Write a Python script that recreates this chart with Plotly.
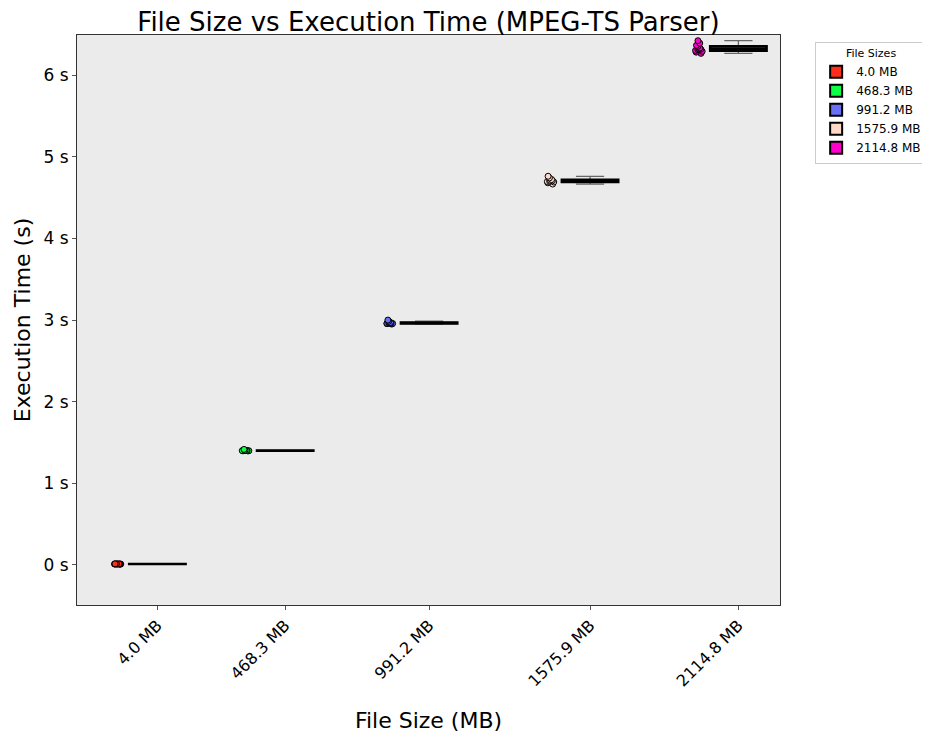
import numpy as np
import plotly.graph_objects as go

file_sizes_mb = [4.0, 468.3, 991.2, 1575.9, 2114.8]
labels = ["4.0 MB", "468.3 MB", "991.2 MB", "1575.9 MB", "2114.8 MB"]
y_tick_vals = [0, 1, 2, 3, 4, 5, 6]
y_tick_text = ["0 s", "1 s", "2 s", "3 s", "4 s", "5 s", "6 s"]
colors = ["#ff2d1a", "#0aff45", "#6b6ff5", "#ffd8c8", "#ff00cc"]

times_4_0 = [0.010, 0.012, 0.011, 0.013, 0.012, 0.014, 0.011, 0.012, 0.013, 0.012]
times_468_3 = [1.398, 1.401, 1.404, 1.399, 1.402, 1.415, 1.400, 1.403, 1.397, 1.401]
times_991_2 = [2.955, 2.962, 2.958, 2.970, 2.950, 2.999, 2.965, 2.960, 2.985, 2.957]
times_1575_9 = [4.665, 4.680, 4.690, 4.695, 4.700, 4.705, 4.710, 4.720, 4.740, 4.760]
times_2114_8 = [6.265, 6.280, 6.290, 6.300, 6.310, 6.315, 6.320, 6.330, 6.350, 6.363, 6.390, 6.420]

all_times = [times_4_0, times_468_3, times_991_2, times_1575_9, times_2114_8]

fig = go.Figure()
# whiskers + points (thin grey lines)
for size, lab, col, ts in zip(file_sizes_mb, labels, colors, all_times):
    fig.add_trace(go.Box(
        x=[size] * len(ts),
        y=ts,
        name=lab,
        legendgroup=lab,
        showlegend=False,
        width=205,
        fillcolor=col,
        line=dict(color="#666666", width=1.3),
        whiskerwidth=0.5,
        boxpoints="all",
        pointpos=-1.4,
        jitter=0.15,
        marker=dict(color=col, size=6, line=dict(color="black", width=1)),
    ))
# boxes with thick black outline on top
for size, lab, col, ts in zip(file_sizes_mb, labels, colors, all_times):
    q1, med, q3 = np.percentile(ts, [25, 50, 75])
    fig.add_trace(go.Box(
        x=[size],
        q1=[q1], median=[med], q3=[q3],
        lowerfence=[q1], upperfence=[q3],
        name=lab,
        legendgroup=lab,
        showlegend=True,
        width=205,
        fillcolor=col,
        line=dict(color="black", width=2.5),
        whiskerwidth=0,
        boxpoints=False,
    ))

fig.update_layout(
    width=922, height=726,
    paper_bgcolor="white",
    plot_bgcolor="#ebebeb",
    font=dict(family="DejaVu Sans", color="black"),
    title=dict(text="File Size vs Execution Time (MPEG-TS Parser)",
               font=dict(size=26), x=0.5, xref="paper", xanchor="center",
               y=0.981, yanchor="middle"),
    margin=dict(l=69, r=150, t=27, b=129, autoexpand=False),
    boxmode="overlay",
    showlegend=True,
    legend=dict(title=dict(text="File Sizes", font=dict(size=11), side="top center"),
                font=dict(size=12), x=1.05, xanchor="left", y=0.988, yanchor="top",
                bgcolor="white", bordercolor="#cccccc", borderwidth=1,
                tracegroupgap=0, itemsizing="constant"),
    xaxis=dict(
        range=[-288, 2266],
        tickvals=file_sizes_mb, ticktext=labels, tickangle=-45,
        tickfont=dict(size=16), ticks="outside", ticklen=4, tickcolor="#555",
        showgrid=False, zeroline=False, automargin=False,
        showline=True, linecolor="#333", linewidth=1, mirror=True,
        title=dict(text="File Size (MB)", font=dict(size=22), standoff=23),
    ),
    yaxis=dict(
        range=[-0.49, 6.49],
        tickvals=y_tick_vals, ticktext=y_tick_text,
        tickfont=dict(size=17), ticks="outside", ticklen=4, tickcolor="#555",
        showgrid=False, zeroline=False, automargin=False,
        showline=True, linecolor="#333", linewidth=1, mirror=True,
        title=dict(text="Execution Time (s)", font=dict(size=22), standoff=6),
    ),
)

fig.write_html("out.html")
